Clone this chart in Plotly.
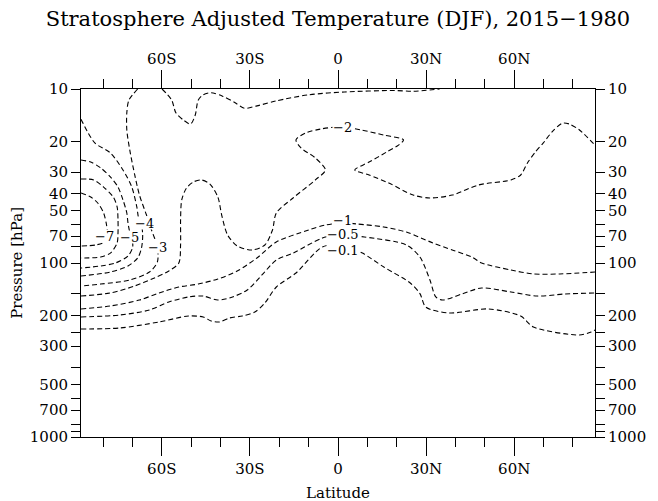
import math
import plotly.graph_objects as go

# ---- contour lines (latitude in deg, pressure in hPa) ----
lat_m7 = [-87.5, -84.2, -81.8, -79.8, -78.8, -78.5, -79.5, -82.5, -87.5]
p_m7 = [39.6, 41.8, 45.2, 51.6, 60.5, 70.0, 75.7, 78.8, 79.8]

lat_m6 = [-87.5, -83.2, -79.8, -76.5, -75.2, -74.9, -74.9, -75.2, -77.5, -80.8, -87.5]
p_m6 = [32.9, 33.3, 36.6, 41.8, 47.6, 56.6, 67.2, 76.7, 87.7, 92.4, 93.6]

lat_m5 = [-87.5, -84.2, -80.8, -77.5, -74.9, -73.2, -71.9, -71.5, -70.9, -70.2, -69.9, -71.5, -75.8, -80.8, -87.5]
p_m5 = [25.6, 26.3, 28.4, 32.0, 36.6, 43.4, 51.6, 58.9, 66.4, 71.8, 80.9, 91.2, 100.0, 104.0, 106.9]

lat_m4 = [-87.5, -82.8, -77.5, -73.2, -70.2, -68.5, -67.9, -66.9, -66.5, -66.9, -68.2, -71.5, -77.5, -87.5]
p_m4 = [14.9, 20.4, 23.3, 29.2, 36.6, 47.6, 55.1, 60.5, 69.0, 82.0, 93.6, 104.0, 112.7, 118.8]

lat_m3a = [-68.2, -71.2, -71.9, -71.9, -70.9, -69.2, -67.6, -65.2, -63.5, -61.5, -61.5, -64.2, -70.9, -80.8, -87.5]
p_m3a = [10.0, 11.6, 13.7, 17.2, 22.4, 31.2, 40.7, 53.0, 64.6, 80.9, 98.7, 112.7, 125.3, 132.1, 135.5]

lat_m3b = [-59.9, -56.6, -55.2, -52.6, -50.2, -48.6, -47.6, -45.9, -43.2, -39.3, -35.3, -31.9,
           -27.6, -21.0, -10.0, 2.3, 19.0, 25.6, 34.6]
p_m3b = [10.0, 11.6, 13.7, 15.1, 15.9, 14.1, 11.6, 10.8, 10.5, 11.0, 11.9, 12.9,
         12.5, 11.7, 10.8, 10.4, 10.2, 10.3, 10.0]

lat_m2 = [-87.5, -77.5, -69.2, -62.5, -57.6, -54.2, -53.6, -53.6, -53.2, -51.6, -49.2, -46.6,
          -43.6, -40.9, -39.6, -37.6, -34.3, -29.3, -24.9, -22.3, -21.0, -15.3, -7.7, -4.3,
          -7.7, -12.6, -14.3, -11.0, -6.0, 1.3, 8.0, 15.6, 22.3, 20.6, 16.6, 10.6, 5.7,
          10.6, 17.3, 25.6, 31.3, 38.9, 47.9, 58.9, 62.2, 64.5, 67.2, 69.9, 73.2, 76.5,
          78.8, 82.2, 87.5]
p_m2 = [154.9, 148.6, 135.5, 121.9, 111.2, 100.0, 78.8, 56.6, 43.4, 37.1, 34.2, 33.3,
        35.2, 41.8, 53.0, 69.0, 79.8, 84.2, 78.8, 64.6, 51.6, 42.3, 33.3, 29.2,
        24.9, 21.8, 19.6, 17.9, 17.0, 16.5, 17.2, 18.4, 19.6, 21.0, 23.0, 26.3, 29.2,
        31.2, 34.7, 40.7, 42.3, 40.7, 35.6, 33.3, 31.2, 26.6, 23.0, 20.4, 17.4, 15.7,
        15.9, 17.2, 21.0]

lat_m1 = [-87.5, -77.5, -67.6, -60.9, -54.2, -47.6, -40.9, -34.3, -27.6, -21.0, -10.0, -4.3,
          1.7, 6.7, 15.6, 23.3, 32.3, 38.9, 45.6, 48.9, 58.9, 66.5, 75.5, 87.5]
p_m1 = [183.7, 176.6, 163.3, 148.6, 137.4, 132.1, 123.6, 111.2, 93.6, 75.7, 64.6, 60.5,
        58.9, 59.7, 62.1, 66.4, 76.7, 84.2, 92.4, 100.0, 109.7, 115.6, 115.6, 112.7]

lat_m05 = [-87.5, -74.2, -64.2, -57.6, -50.9, -45.9, -40.9, -35.9, -30.9, -25.9, -21.0, -15.3,
           -5.3, 0.0, 9.0, 23.3, 27.9, 31.3, 33.3, 35.6, 42.2, 48.9, 58.9, 67.9, 77.2, 87.5]
p_m05 = [204.3, 199.0, 186.2, 167.5, 156.7, 154.9, 163.3, 156.7, 142.9, 117.2, 96.1, 87.7,
         71.8, 69.0, 70.9, 78.8, 92.4, 125.3, 156.7, 163.3, 150.7, 139.2, 146.8, 154.9, 150.7, 148.6]

lat_m01 = [-87.5, -74.2, -60.9, -50.9, -45.9, -43.2, -40.3, -36.9, -32.6, -28.3, -24.9, -21.0,
           -14.3, -5.3, 1.7, 8.3, 15.6, 24.6, 27.9, 29.9, 37.9, 51.2, 62.2, 66.5, 82.2, 86.2, 87.5]
p_m01 = [239.5, 236.3, 218.2, 201.6, 204.3, 215.4, 218.2, 207.0, 201.6, 191.4, 169.8, 137.4,
         114.1, 80.9, 79.0, 87.7, 105.5, 130.3, 150.0, 179.1, 193.7, 183.7, 201.6, 233.1, 259.3, 249.3, 242.7]

# contour labels
label_values = [-7, -5, -4, -3, -2, -1, -0.5, -0.1]
label_lat = [-79.5, -70.9, -65.9, -61.5, 1.7, 1.7, 1.7, 1.7]
label_p = [70.0, 70.9, 59.0, 80.9, 16.5, 56.5, 68.5, 84.5]

# axis ticks
lat_major = [-60, -30, 0, 30, 60]
lat_major_text = ["60S", "30S", "0", "30N", "60N"]
lat_minor = [-80, -70, -50, -40, -20, -10, 10, 20, 40, 50, 70, 80]
p_ticks = [10, 20, 30, 40, 50, 60, 70, 80, 100, 150, 200, 250, 300, 400, 500, 600, 700, 850, 925, 1000]
p_labeled = [10, 20, 30, 40, 50, 70, 100, 200, 300, 500, 700, 1000]

lines = [(lat_m01, p_m01), (lat_m7, p_m7), (lat_m6, p_m6), (lat_m5, p_m5), (lat_m4, p_m4),
         (lat_m3a, p_m3a), (lat_m3b, p_m3b), (lat_m2, p_m2), (lat_m1, p_m1), (lat_m05, p_m05)]

FONT = "DejaVu Serif"
fig = go.Figure()
for i, (la, pp) in enumerate(lines):
    fig.add_trace(go.Scatter(
        x=la, y=pp, mode="lines",
        line=dict(color="black", width=1.1, dash="5px,3px", shape="spline", smoothing=0.8),
        hoverinfo="skip", showlegend=False,
        xaxis="x2" if i == 0 else "x", yaxis="y2" if i == 0 else "y"))


def fmt(v):
    s = ("%g" % abs(v))
    return ("\u2212" + s) if v < 0 else s


for v, la, pp in zip(label_values, label_lat, label_p):
    fig.add_annotation(x=la, y=math.log10(pp), xref="x", yref="y",
                       text=fmt(v), showarrow=False, bgcolor="white", borderpad=0,
                       height=12, valign="middle",
                       font=dict(family=FONT, size=13, color="black"))

ptext = [str(p) if p in p_labeled else "" for p in p_ticks]
xcommon = dict(range=[-87.5, 87.5], showline=True, linecolor="black", linewidth=1,
               ticks="outside", tickvals=lat_major, ticktext=lat_major_text,
               tickcolor="black", tickwidth=1, showgrid=False, zeroline=False,
               tickfont=dict(family=FONT, size=15, color="black"),
               minor=dict(tickvals=lat_minor, ticks="outside", ticklen=9, tickcolor="black", tickwidth=1))
ycommon = dict(type="log", range=[3, 1], showline=True, linecolor="black", linewidth=1,
               ticks="outside", tickvals=p_ticks, ticktext=ptext, ticklen=9,
               tickcolor="black", tickwidth=1, showgrid=False, zeroline=False,
               tickfont=dict(family=FONT, size=15, color="black"))

fig.update_layout(
    width=658, height=501,
    margin=dict(l=81, r=53, t=89, b=64),
    paper_bgcolor="white", plot_bgcolor="white",
    showlegend=False,
    xaxis=dict(**xcommon, ticklen=18, side="bottom", anchor="y"),
    xaxis2=dict(**xcommon, ticklen=18, side="top", overlaying="x", anchor="y"),
    yaxis=dict(**ycommon, side="left", anchor="x"),
    yaxis2=dict(**ycommon, side="right", overlaying="y", anchor="x"),
    title=dict(text="Stratosphere Adjusted Temperature (DJF), 2015\u22121980",
               x=0.5, xref="paper", xanchor="center", y=0.962, yref="container", yanchor="middle",
               font=dict(family=FONT, size=21, color="black")),
)
fig.add_annotation(text="Pressure [hPa]", xref="paper", yref="paper", x=-0.125, y=0.5,
                   textangle=-90, showarrow=False, xanchor="center", yanchor="middle",
                   font=dict(family=FONT, size=15, color="black"))
fig.add_annotation(text="Latitude", xref="paper", yref="paper", x=0.5, y=-0.16,
                   showarrow=False, xanchor="center", yanchor="middle",
                   font=dict(family=FONT, size=15, color="black"))

fig.write_html("out.html")
